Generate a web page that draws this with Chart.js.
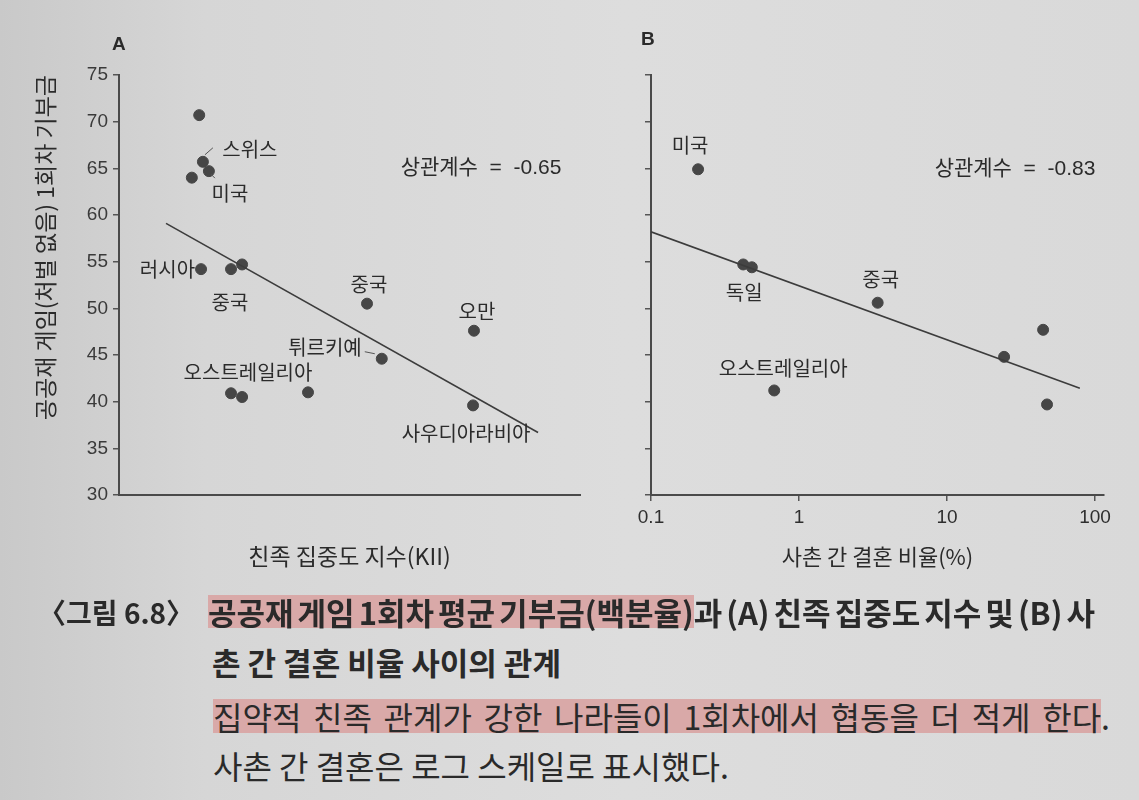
<!DOCTYPE html>
<html>
<head>
<meta charset="utf-8">
<script src="https://cdn.jsdelivr.net/npm/chart.js@4.4.1/dist/chart.umd.min.js"></script>
<style>
  html, body { margin: 0; padding: 0; }
  body {
    width: 1139px; height: 800px; overflow: hidden; position: relative;
    background: linear-gradient(to right, #c9c9c9 0%, #d6d6d6 18%, #dddddd 55%, #d9d9d9 100%);
    font-family: "Noto Sans CJK KR", sans-serif; color: #2a2a2a;
  }
  .box { position: absolute; }
  .panel { position: absolute; font: bold 19px "Liberation Sans", sans-serif; color: #2a2a2a; }
  .cap { position: absolute; white-space: nowrap; line-height: 40px; font-size: 32px; }
  .b { font-weight: bold; font-size: 31px; }
  .hl { background: linear-gradient(transparent 13%, #d9a9a8 13%, #d9a9a8 87%, transparent 87%); }
</style>
</head>
<body>
<div class="box" style="left:0;top:0;width:590px;height:600px"><canvas id="chartA"></canvas></div>
<div class="box" style="left:590px;top:0;width:549px;height:600px"><canvas id="chartB"></canvas></div>
<div class="panel" style="left:112px;top:33px">A</div>
<div class="panel" style="left:641px;top:28px">B</div>

<div class="cap b" style="left:38px;top:592px;font-size:28px">〈그림 6.8〉</div>
<div class="cap b fit" data-w="887" style="left:208px;top:592px"><span class="hl">공공재 게임 1회차 평균 기부금(백분율)</span>과 (A) 친족 집중도 지수 및 (B) 사</div>
<div class="cap b" style="left:212px;top:642px">촌 간 결혼 비율 사이의 관계</div>
<div class="cap fit" data-w="897" style="left:213px;top:696px"><span class="hl">집약적 친족 관계가 강한 나라들이 1회차에서 협동을 더 적게 한다</span>.</div>
<div class="cap" style="left:213px;top:745px">사촌 간 결혼은 로그 스케일로 표시했다.</div>

<script>
// panel A: kinship intensity index (unlabelled axis) vs first-round contribution
const kiiValues = [17.4, 18.2, 19.5, 15.8, 17.8, 24.3, 26.7, 53.8, 77.0, 57.0, 24.3, 26.7, 41.0, 76.8];
const giftA     = [70.7, 65.7, 64.7, 64.0, 54.2, 54.2, 54.7, 50.5, 47.6, 44.6, 40.9, 40.5, 41.0, 39.6];
const namesA    = ['', '스위스', '미국', '', '러시아', '중국', '', '중국', '오만', '튀르키예', '오스트레일리아', '', '', '사우디아라비아'];
const trendAx   = [10.2, 90.9];
const trendAy   = [59.1, 36.7];

// panel B: cousin marriage rate (%) vs first-round contribution
const cousinPct = [0.208, 0.42, 0.48, 3.40, 44.6, 24.3, 0.68, 47.4];
const giftB     = [64.9, 54.7, 54.4, 50.6, 47.7, 44.8, 41.2, 39.7];
const namesB    = ['미국', '독일', '', '중국', '', '', '오스트레일리아', ''];
const trendBx   = [0.1, 79];
const trendBy   = [58.2, 41.45];

const yTicks = [30, 35, 40, 45, 50, 55, 60, 65, 70, 75];
const xTicksB = [0.1, 1, 10, 100];
const corr = [-0.65, -0.83];

// stretch word gaps so a caption line spans its printed width without wrapping
document.querySelectorAll('.fit').forEach(el => {
  const gaps = (el.textContent.match(/ /g) || []).length;
  const extra = Number(el.dataset.w) - el.getBoundingClientRect().width;
  el.style.wordSpacing = (extra / gaps) + 'px';
});

const ink = '#2b2b2b';
const dot = '#464646';
Chart.defaults.font.family = '"Liberation Sans", "Noto Sans CJK KR", sans-serif';
Chart.defaults.color = '#333';

// label offsets (px from the point) and small leader strokes
const placeA = {
  1: [47, -12, 'center'], 2: [21, 22, 'center'], 4: [-6, 0, 'right'], 5: [-1, 33, 'center'],
  7: [2, -19, 'center'], 8: [3, -19, 'center'], 9: [-20, -11, 'right'], 10: [17, -21, 'center'],
  13: [-7, 28, 'center']
};
const leadersA = [[1, 2, -7, 10, -14], [2, 2, 3, 6, 7], [9, -17, -7, -7, -5]];
const placeB = { 0: [-8, -24, 'center'], 1: [1, 28, 'center'], 3: [3, -23, 'center'], 6: [9, -22, 'center'] };

const pts = (xs, ys) => xs.map((x, i) => ({ x: x, y: ys[i] }));

const tags = {
  id: 'tags',
  afterDatasetsDraw(chart, args, o) {
    const { ctx } = chart;
    const sx = chart.scales.x, sy = chart.scales.y;
    ctx.save();
    ctx.fillStyle = ink;
    ctx.strokeStyle = '#555';
    ctx.lineWidth = 1;
    ctx.textBaseline = 'middle';
    ctx.font = '20px "Noto Sans CJK KR", sans-serif';
    o.names.forEach((name, i) => {
      if (!name) return;
      const p = o.points[i];
      const pl = o.place[i];
      ctx.textAlign = pl[2];
      ctx.fillText(name, sx.getPixelForValue(p.x) + pl[0], sy.getPixelForValue(p.y) + pl[1]);
    });
    (o.leaders || []).forEach(l => {
      const p = o.points[l[0]];
      const px = sx.getPixelForValue(p.x), py = sy.getPixelForValue(p.y);
      ctx.beginPath();
      ctx.moveTo(px + l[1], py + l[2]);
      ctx.lineTo(px + l[3], py + l[4]);
      ctx.stroke();
    });
    ctx.textAlign = 'center';
    ctx.font = '21px "Liberation Sans", "Noto Sans CJK KR", sans-serif';
    ctx.fillText('상관계수  =  ' + o.corr.toFixed(2), chart.chartArea.left + o.note[0], chart.chartArea.top + o.note[1]);
    ctx.restore();
  }
};

function yAxis(showLabels, width, title) {
  return {
    min: 30, max: 75,
    afterBuildTicks: s => { s.ticks = yTicks.map(v => ({ value: v })); },
    afterFit: s => { s.width = width; },
    grid: { drawOnChartArea: false, tickLength: 6, color: '#555', lineWidth: 1.5 },
    border: { display: true, color: '#4a4a4a', width: 2 },
    ticks: { display: showLabels, padding: 5, color: '#3a3a3a', font: { size: 19 } },
    title: title ? { display: true, text: title, align: 'end', color: ink, font: { size: 23, family: '"Noto Sans CJK KR", sans-serif' }, padding: { top: 31, bottom: 0 } } : { display: false }
  };
}

function xTitle(text, size) {
  return { display: true, text: text, color: ink, font: { size: size, family: '"Noto Sans CJK KR", sans-serif' }, padding: { top: 0, bottom: 30 } };
}

const scatterSet = (data) => ({
  data: data, backgroundColor: dot, borderColor: dot, pointRadius: 5.5, pointHoverRadius: 5.5
});
const trendSet = (data) => ({
  data: data, showLine: true, borderColor: '#3c3c3c', borderWidth: 1.6, pointRadius: 0
});

const pointsA = pts(kiiValues, giftA);
new Chart(document.getElementById('chartA'), {
  type: 'scatter',
  data: { datasets: [trendSet(pts(trendAx, trendAy)), scatterSet(pointsA)] },
  options: {
    responsive: true, maintainAspectRatio: false, animation: false,
    layout: { padding: { left: 0, top: 75, right: 10, bottom: 0 } },
    plugins: {
      legend: { display: false }, tooltip: { enabled: false },
      tags: { names: namesA, points: pointsA, place: placeA, leaders: leadersA, corr: corr[0], note: [362, 93] }
    },
    scales: {
      x: {
        min: 0, max: 100,
        afterFit: s => { s.height = 105; },
        grid: { display: false },
        border: { display: true, color: '#4a4a4a', width: 2 },
        ticks: { display: false },
        title: xTitle('친족 집중도 지수(KII)', 23)
      },
      y: yAxis(true, 119, '공공재 게임(처벌 없음) 1회차 기부금')
    }
  },
  plugins: [tags]
});

const pointsB = pts(cousinPct, giftB);
new Chart(document.getElementById('chartB'), {
  type: 'scatter',
  data: { datasets: [trendSet(pts(trendBx, trendBy)), scatterSet(pointsB)] },
  options: {
    responsive: true, maintainAspectRatio: false, animation: false,
    layout: { padding: { left: 0, top: 75, right: 35, bottom: 0 } },
    plugins: {
      legend: { display: false }, tooltip: { enabled: false },
      tags: { names: namesB, points: pointsB, place: placeB, corr: corr[1], note: [364, 94] }
    },
    scales: {
      x: {
        type: 'logarithmic', min: 0.1, max: 115,
        afterBuildTicks: s => { s.ticks = xTicksB.map(v => ({ value: v })); },
        afterFit: s => { s.height = 105; },
        grid: { drawOnChartArea: false, tickLength: 6, color: '#555', lineWidth: 1.5 },
        border: { display: true, color: '#4a4a4a', width: 2 },
        ticks: { padding: 5, color: '#2e2e2e', font: { size: 19 }, maxRotation: 0, callback: v => String(v) },
        title: xTitle('사촌 간 결혼 비율(%)', 22)
      },
      y: yAxis(false, 61, null)
    }
  },
  plugins: [tags]
});
</script>
</body>
</html>
